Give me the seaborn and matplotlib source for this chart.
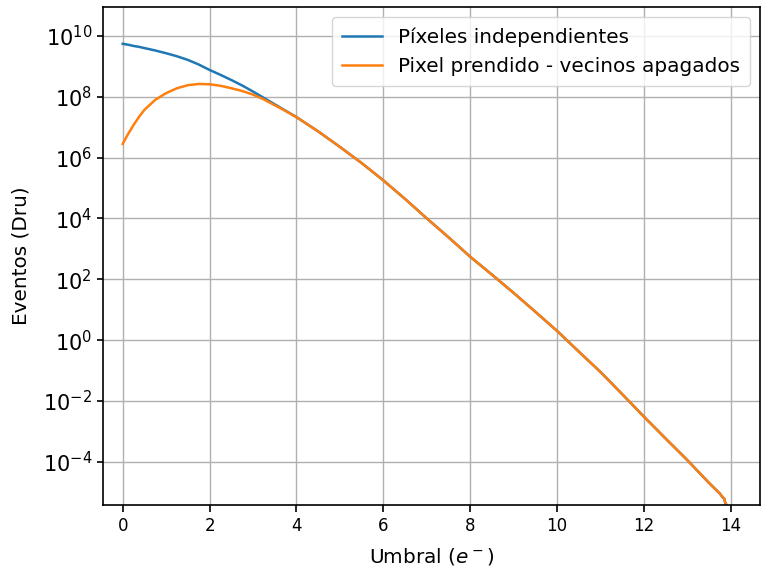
import seaborn as sns
import matplotlib.pyplot as plt
import numpy as np
import pandas as pd

# umbral (e-) y log10(eventos)
umbral_ini = [0, 0.125, 0.25, 0.375, 0.5, 0.75, 1, 1.25, 1.5, 1.75, 2, 2.25, 2.5, 2.75, 3, 3.25, 3.5, 3.75]
log_indep_ini = [9.74, 9.71, 9.67, 9.64, 9.60, 9.52, 9.43, 9.33, 9.21, 9.06, 8.88, 8.72,
                 8.55, 8.37, 8.17, 7.96, 7.75, 7.54]
log_prend_ini = [6.45, 6.78, 7.07, 7.34, 7.57, 7.90, 8.12, 8.28, 8.38, 8.42, 8.41, 8.36,
                 8.28, 8.19, 8.07, 7.91, 7.72, 7.53]

umbral_cola = [4, 4.5, 5, 5.5, 6, 6.5, 7, 7.5, 8, 8.5, 9, 9.5, 10, 10.5, 11,
               11.5, 12, 12.5, 13, 13.5, 13.75, 13.8, 13.85, 13.87, 13.9]
log_cola = [7.33, 6.86, 6.35, 5.82, 5.25, 4.64, 4.00, 3.38, 2.74, 2.15, 1.55, 0.93,
            0.30, -0.38, -1.05, -1.78, -2.52, -3.24, -3.95, -4.70, -5.05, -5.15,
            -5.22, -5.35, -5.42]

etiquetas = ['Píxeles independientes', 'Pixel prendido - vecinos apagados']

df = pd.concat([
    pd.DataFrame({'umbral': umbral_ini + umbral_cola,
                  'eventos': 10.0 ** np.array(log_indep_ini + log_cola),
                  'serie': etiquetas[0]}),
    pd.DataFrame({'umbral': umbral_ini + umbral_cola,
                  'eventos': 10.0 ** np.array(log_prend_ini + log_cola),
                  'serie': etiquetas[1]}),
], ignore_index=True)

plt.rcParams['axes.linewidth'] = 1.2
plt.rcParams['xtick.major.size'] = 4.8
plt.rcParams['ytick.major.size'] = 4.2
plt.rcParams['xtick.major.width'] = 1.2
plt.rcParams['ytick.major.width'] = 1.2

fig = plt.figure(figsize=(7.61, 5.71), dpi=100)
ax = fig.add_axes([0.135, 0.1156, 0.8637, 0.8716])
sns.lineplot(data=df, x='umbral', y='eventos', hue='serie', hue_order=etiquetas,
             palette=['#1f77b4', '#ff7f0e'], linewidth=1.8, ax=ax, sort=False)
ax.set_yscale('log')
ax.set_xlim(-0.46, 14.67)
ax.set_ylim(10 ** -5.42, 10 ** 10.94)
ax.set_yticks([1e-4, 1e-2, 1e0, 1e2, 1e4, 1e6, 1e8, 1e10])
ax.minorticks_off()
ax.grid(True, color='#b0b0b0', linewidth=1.0)
ax.tick_params(axis='y', labelsize=15)
ax.tick_params(axis='x', labelsize=12)
ax.set_xlabel('Umbral ($e^-$)', fontsize=14.4, labelpad=8)
ax.set_ylabel('Eventos (Dru)', fontsize=14.4, labelpad=9)
ax.legend(title=None, loc='upper right', fontsize=14.4, borderpad=0.5)

fig.savefig('out.png', dpi=100)
